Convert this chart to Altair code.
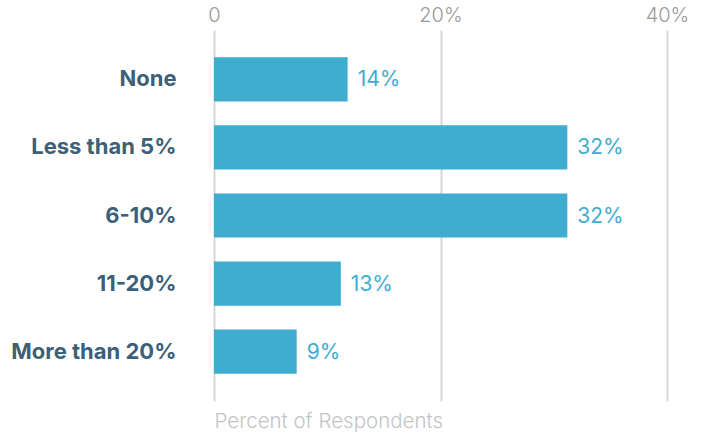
import altair as alt
import pandas as pd

categories = ["None", "Less than 5%", "6-10%", "11-20%", "More than 20%"]
bar_values = [11.8, 31.2, 31.2, 11.2, 7.3]
label_texts = ["14%", "32%", "32%", "13%", "9%"]

df = pd.DataFrame({"cat": categories, "val": bar_values, "lab": label_texts})

FONT = "Inter"
BLUE = "#3eadd0"

y = alt.Y("cat:N", sort=categories,
          scale=alt.Scale(paddingInner=0.35, paddingOuter=0.4),
          axis=alt.Axis(title=None, domain=False, ticks=False, grid=False,
                        labelFont=FONT, labelFontSize=22, labelFontWeight="bold",
                        labelColor="#3d5f78", labelPadding=38))
x = alt.X("val:Q", scale=alt.Scale(domain=[0, 40], nice=False),
          axis=alt.Axis(orient="top", values=[0, 20, 40],
                        labelExpr="datum.value == 0 ? '0' : datum.value + '%'",
                        domain=False, ticks=False, gridColor="#d6d6d6", gridWidth=2,
                        labelFont=FONT, labelFontSize=20, labelFontWeight=300,
                        labelColor="#9a9a9a",
                        labelPadding=5, labelFlush=False,
                        title="Percent of Respondents", titleFont=FONT,
                        titleFontSize=20.5, titleFontWeight=300, titleColor="#c4c4c4",
                        titleAnchor="start", titleAlign="left", titleBaseline="alphabetic",
                        titleX=0, titleY=397))

bars = alt.Chart(df).mark_bar(color=BLUE).encode(x=x, y=y)
text = alt.Chart(df).mark_text(align="left", baseline="middle", dx=10, dy=1,
                               font=FONT, fontSize=21, color=BLUE).encode(
    x="val:Q", y=alt.Y("cat:N", sort=categories), text="lab:N")

chart = (bars + text).properties(
    width=453, height=371,
    autosize=alt.AutoSizeParams(type="none"),
    padding={"left": 214, "top": 30, "right": 38, "bottom": 33},
).configure_view(stroke=None)

chart.save("out.html", embed_options={"renderer": "svg", "actions": False})
